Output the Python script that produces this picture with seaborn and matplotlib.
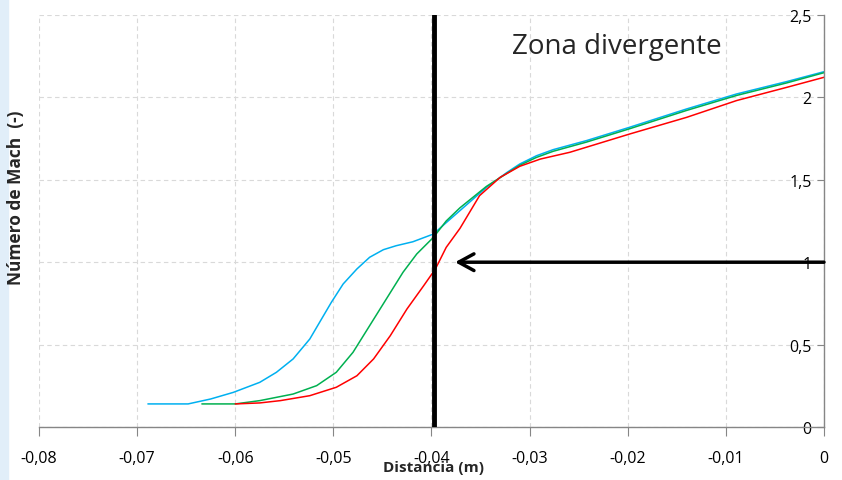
"""
Número de Mach a lo largo de la tobera: tres perfiles y la zona divergente
"""

import pandas as pd
import seaborn as sns
import matplotlib.pyplot as plt
from matplotlib.patches import Rectangle
from matplotlib.ticker import FuncFormatter

# perfil azul
x_azul = [-0.0689, -0.0648, -0.0625, -0.0602, -0.0575, -0.0558, -0.0541, -0.0524,
          -0.0510, -0.0502, -0.0490, -0.0476, -0.0463, -0.0449, -0.0436, -0.0419,
          -0.0398, -0.0385, -0.0371, -0.0344, -0.0323, -0.0310, -0.0293, -0.0276,
          -0.0242, -0.0198, -0.0140, -0.0089, -0.0038, 0.0]
m_azul = [0.14, 0.14, 0.17, 0.21, 0.271, 0.332, 0.413, 0.534,
          0.676, 0.757, 0.868, 0.959, 1.030, 1.076, 1.100, 1.124,
          1.171, 1.24, 1.313, 1.454, 1.545, 1.596, 1.646, 1.683,
          1.738, 1.819, 1.930, 2.021, 2.096, 2.156]

# perfil verde
x_verde = [-0.0634, -0.0600, -0.0575, -0.0541, -0.0517, -0.0497, -0.0480, -0.0463,
           -0.0446, -0.0429, -0.0415, -0.0398, -0.0385, -0.0371, -0.0344, -0.0323,
           -0.0310, -0.0293, -0.0276, -0.0242, -0.0198, -0.0140, -0.0089, -0.0038, 0.0]
m_verde = [0.14, 0.14, 0.160, 0.200, 0.251, 0.332, 0.453, 0.615,
           0.777, 0.939, 1.050, 1.151, 1.25, 1.33, 1.46, 1.54,
           1.588, 1.636, 1.673, 1.729, 1.810, 1.921, 2.012, 2.088, 2.150]

# perfil rojo
x_rojo = [-0.0600, -0.0575, -0.0554, -0.0524, -0.0497, -0.0476, -0.0459, -0.0442,
          -0.0425, -0.0408, -0.0396, -0.0385, -0.0371, -0.0351, -0.0330, -0.0310,
          -0.0289, -0.0259, -0.0198, -0.0140, -0.0089, -0.0038, 0.0]
m_rojo = [0.14, 0.146, 0.160, 0.190, 0.241, 0.311, 0.413, 0.554,
          0.716, 0.857, 0.959, 1.090, 1.205, 1.404, 1.515, 1.582,
          1.626, 1.667, 1.778, 1.879, 1.981, 2.061, 2.122]

x_ticks = [-0.08, -0.07, -0.06, -0.05, -0.04, -0.03, -0.02, -0.01, 0.0]
y_ticks = [0, 0.5, 1, 1.5, 2, 2.5]

garganta_x = -0.0397           # linea vertical de la garganta
flecha = (-0.0376, 0.0, 1.0)   # punta, cola, altura

colores = {"azul": "#00b0f0", "verde": "#00b050", "rojo": "#ff0000"}

df = pd.concat([
    pd.DataFrame({"x": x_azul, "mach": m_azul, "caso": "azul"}),
    pd.DataFrame({"x": x_verde, "mach": m_verde, "caso": "verde"}),
    pd.DataFrame({"x": x_rojo, "mach": m_rojo, "caso": "rojo"}),
])

sns.set_style("white")
plt.rcParams['font.family'] = ['Open Sans', 'DejaVu Sans']

fig = plt.figure(figsize=(8.42, 4.81), dpi=100)
ax = fig.add_axes([0.0463, 0.1102, 0.9323, 0.8565])
fig.patches.append(Rectangle((0, 0), 0.009, 1, transform=fig.transFigure,
                             color="#e1eef9", zorder=-1))

sns.lineplot(data=df, x="x", y="mach", hue="caso", palette=colores,
             estimator=None, sort=False, linewidth=1.1, legend=False, ax=ax)

ax.set_xlim(-0.08, 0)
ax.set_ylim(0, 2.5)
ax.set_xticks(x_ticks)
ax.set_yticks(y_ticks)
coma = FuncFormatter(lambda v, p: ('%g' % round(v, 3)).replace('.', ','))
ax.xaxis.set_major_formatter(coma)
ax.yaxis.set_major_formatter(coma)

ax.grid(True, color="#d9d9d9", linestyle=(0, (4, 3)), linewidth=0.8)
ax.set_axisbelow(True)

for side in ("top", "left"):
    ax.spines[side].set_visible(False)
for side in ("bottom", "right"):
    ax.spines[side].set_color("#868686")
    ax.spines[side].set_linewidth(1.0)

ax.yaxis.tick_right()
ax.tick_params(axis="y", direction="in", length=5, color="#868686",
               pad=-9, labelsize=11.5, labelcolor="black")
plt.setp(ax.get_yticklabels(), ha="right")
ax.tick_params(axis="x", direction="out", length=6.5, color="#868686",
               pad=10, labelsize=11.5, labelcolor="black", bottom=True)

ax.axvline(garganta_x, color="black", linewidth=3.5, zorder=5)
ax.annotate("", xy=(flecha[0], flecha[2]), xytext=(flecha[1], flecha[2]),
            arrowprops=dict(arrowstyle="->,head_length=0.55,head_width=0.3",
                            mutation_scale=20, lw=2.5, color="black",
                            shrinkA=0, shrinkB=0), zorder=6)

ax.text(0.736, 0.925, "Zona divergente", transform=ax.transAxes,
        fontsize=20, ha="center", va="center")

ax.set_xlabel("Distancia (m)", fontsize=11, fontweight="bold")
ax.xaxis.set_label_coords(0.502, -0.08)
ax.set_ylabel("Número de Mach  (-)", fontsize=12.5, fontweight="bold")
ax.yaxis.set_label_position("left")
ax.yaxis.set_label_coords(-0.018, 0.56)

fig.savefig("out.png", dpi=100)
